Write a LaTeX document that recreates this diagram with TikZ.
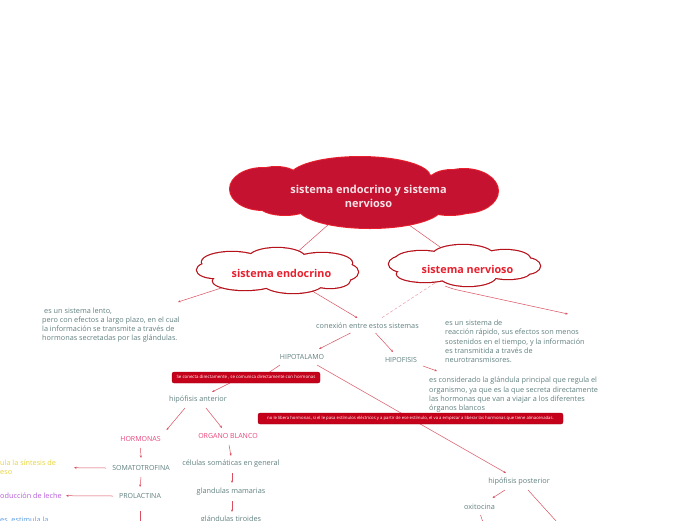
\documentclass[tikz,border=0pt]{standalone}
\usepackage{fontspec}
\setmainfont{Open Sans}
\usetikzlibrary{shapes.geometric,arrows.meta}
\definecolor{crim}{HTML}{C41230}
\definecolor{cred}{HTML}{E8202E}
\definecolor{dred}{HTML}{B5121B}
\definecolor{tgray}{HTML}{5F7F7E}
\definecolor{lnk}{HTML}{D85060}
\definecolor{pinkt}{HTML}{E8457A}
\definecolor{yel}{HTML}{E8D43A}
\definecolor{purp}{HTML}{B65AD8}
\definecolor{blu}{HTML}{5A9BE0}
\definecolor{barred}{HTML}{C4001A}
\definecolor{ctext}{HTML}{F6E2E6}
\pgfdeclarelayer{bg}
\pgfsetlayers{bg,main}
\newcommand{\mycloud}[3]{%
  \foreach \a/\b/\c/\d in {#3} \draw[#1] (\a,\b) ellipse [x radius=\c pt, y radius=\d pt];
  \foreach \a/\b/\c/\d in {#3} \fill[#2] (\a,\b) ellipse [x radius=\c pt, y radius=\d pt];
}
\begin{document}
\begin{tikzpicture}[x=1pt,y=-1pt,
  ln/.style={draw=lnk, line width=0.5pt},
  ar/.style={ln, -{Stealth[length=2.6pt,width=2.2pt]}},
  tx/.style={text=tgray, font=\fontsize{7.3}{9.2}\selectfont, inner sep=0pt, align=left},
  cp/.style={text=tgray, font=\fontsize{7}{8}\selectfont, inner sep=0pt},
  pk/.style={text=pinkt, font=\fontsize{7}{8}\selectfont, inner sep=0pt},
  bar/.style={fill=barred, draw=barred!80!black, line width=0.3pt, rounded corners=2pt, text=white, inner sep=0pt},
  hull/.style={ellipse, inner sep=0pt},
  bigtxt/.style={align=center, text=ctext, inner sep=0pt, font=\bfseries\fontsize{11}{14}\selectfont},
  smtxt/.style={text=cred, inner sep=0pt, font=\bfseries\fontsize{10.8}{12}\selectfont}
]
\useasboundingbox (0,0) rectangle (696,520);

% cloud outlines
\node[hull, minimum width=268pt, minimum height=71pt] (main) at (364,193) {};
\node[hull, minimum width=162pt, minimum height=46pt] (endo) at (277,270) {};
\node[hull, minimum width=152pt, minimum height=43pt] (nerv) at (464,264) {};

\mycloud{draw=cred, line width=2pt}{crim}{364/193/110/22, 360/177/70/20, 263/189/33/21, 276/177/22/10, 464/191/34/22, 452/180/22/10, 285/205/26/10, 370/207/72/21, 450/206/26/9}
\mycloud{draw=dred, line width=2.4pt}{white}{277/271/70/15, 232/262/30/10, 277/258/28/10, 322/263/30/10, 215/270/18/8, 340/272/18/9, 245/281/32/9, 293/283/30/10, 330/280/20/8}
\mycloud{draw=dred, line width=2.4pt}{white}{464/265/65/14, 422/259/26/8, 463/255/30/10, 505/259/25/9, 405/264/16/8, 525/266/15/8, 425/274/28/8, 468/276/28/10, 508/272/22/7}

\node[bigtxt] (maintxt) at (368.5,196) {sistema endocrino y sistema\\nervioso};
\node[smtxt] (endotxt) at (281.5,273) {sistema endocrino};
\node[smtxt] (nervtxt) at (467.5,269) {sistema nervioso};

% texts
\node[tx, anchor=north west] (ltext) at (42,307.5) {\hspace{2pt}es un sistema lento,\\pero con efectos a largo plazo, en el cual\\la información se transmite a través de\\hormonas secretadas por las glándulas.};
\node[tx, anchor=north west] (rtext) at (445,320) {es un sistema de\\reacción rápido, sus efectos son menos\\sostenidos en el tiempo, y la información\\es transmitida a través de\\neurotransmisores.};
\node[tx] (conex) at (367.5,326) {conexión entre estos sistemas};
\node[cp] (hipot) at (302,357) {HIPOTALAMO};
\node[cp] (hipof) at (401,360) {HIPOFISIS};
\node[tx, anchor=north west] (consid) at (429,377) {es considerado la glándula principal que regula el\\organismo, ya que es la que secreta directamente\\las hormonas que van a viajar a los diferentes\\órganos blancos};

\node[bar, minimum width=148pt, minimum height=11pt, font=\fontsize{4.4}{5}\selectfont] (bar1) at (246,377.5) {Se conecta directamente , se comunica directamente con hormonas};
\node[tx] (hant) at (198,400) {hipófisis anterior};
\node[bar, minimum width=305pt, minimum height=11pt, font=\fontsize{4.25}{5}\selectfont] (bar2) at (410.5,418.5) {no le libera hormonas, si el le pasa estímulos eléctricos y a partir de ese estímulo, el va a empezar a liberar las hormonas que tiene almacenadas.};

\node[pk] (horm) at (140.5,439) {HORMONAS};
\node[pk] (organo) at (228,436) {ORGANO BLANCO};
\node[cp] (somato) at (141,468) {SOMATOTROFINA};
\node[cp] (prolac) at (140,496) {PROLACTINA};
\node[tx, text=yel, anchor=north west] (yelt) at (0,459.5) {ula la síntesis de\\eso};
\node[tx, text=purp, anchor=base west] (purt) at (0,498) {oducción de leche};
\node[tx, text=blu, anchor=base west] (blut) at (0,522) {es, estimula la};
\node[tx] (celsom) at (231,464) {células somáticas en general};
\node[tx] (glmam) at (231,492) {glandulas mamarias};
\node[tx] (gltir) at (231,520) {glándulas tiroides};
\node[tx] (hpost) at (519,482) {hipófisis posterior};
\node[tx] (oxi) at (479.5,507) {oxitocina};

% free ends
\coordinate (c1) at (178,302);
\coordinate (c2) at (568,314);
\coordinate (c4) at (74,467.7);
\coordinate (c5) at (66,495.7);
\coordinate (c6) at (140,528);
\coordinate (c7) at (566,532);
\coordinate (c8) at (485,528);

% connectors (behind everything)
\begin{pgfonlayer}{bg}
\draw[ln] (main.center) -- (endo.center);
\draw[ln] (main.center) -- (nerv.center);
\draw[ar] (endo.center) -- (c1);
\draw[ar] (endo.center) -- ([shift={(-10,-8)}]conex.center);
\draw[ln, draw=lnk!55, dash pattern=on 3pt off 2pt] (nerv.center) -- ([shift={(14,-8)}]conex.center);
\draw[ar, rounded corners=4pt] ([shift={(-19,22)}]nerv.center) -- ([shift={(-11,25)}]nerv.center) -- (c2);
\draw[ar] ([shift={(-17,7)}]conex.center) -- ([shift={(17,-8)}]hipot.center);
\draw[ar] ([shift={(8,7)}]conex.center) -- ([shift={(-8,-8)}]hipof.center);
\draw[ar] ([shift={(22,6)}]hipof.center) -- ([shift={(8,-6)}]consid.north west);
\draw[ln] ([shift={(-22,8)}]hipot.center) -- ([shift={(20,-3)}]bar1.center);
\draw[ar] ([shift={(15,8)}]hipot.center) -- ([shift={(-13,-9)}]hpost.center);
\draw[ar] ([shift={(-16,5.5)}]bar1.center) -- ([shift={(14,-8)}]hant.center);
\draw[ar] ([shift={(-13,8)}]hant.center) -- ([shift={(26,-9)}]horm.center);
\draw[ar] ([shift={(8,8)}]hant.center) -- ([shift={(-6,-8)}]organo.center);
\draw[ar] ([shift={(0,9)}]horm.center) -- ([shift={(0,-10)}]somato.center);
\draw[ar] ([shift={(1,9)}]organo.center) -- ([shift={(0,-8)}]celsom.center);
\draw[ar] ([shift={(-35,0)}]somato.center) -- (c4);
\draw[ar] ([shift={(0,9)}]somato.center) -- ([shift={(0,-9)}]prolac.center);
\draw[ar] ([shift={(-27,0)}]prolac.center) -- (c5);
\draw[ln] ([shift={(0,15)}]prolac.center) -- (c6);
\draw[ar] ([shift={(1,9)}]celsom.center) -- ([shift={(1,-9)}]glmam.center);
\draw[ar] ([shift={(1,9)}]glmam.center) -- ([shift={(1,-8)}]gltir.center);
\draw[ar] ([shift={(-14,8)}]hpost.center) -- ([shift={(13,-9)}]oxi.center);
\draw[ln] ([shift={(9,8)}]hpost.center) -- (c7);
\draw[ln] ([shift={(1,8)}]oxi.center) -- (c8);
\end{pgfonlayer}
\end{tikzpicture}
\end{document}
